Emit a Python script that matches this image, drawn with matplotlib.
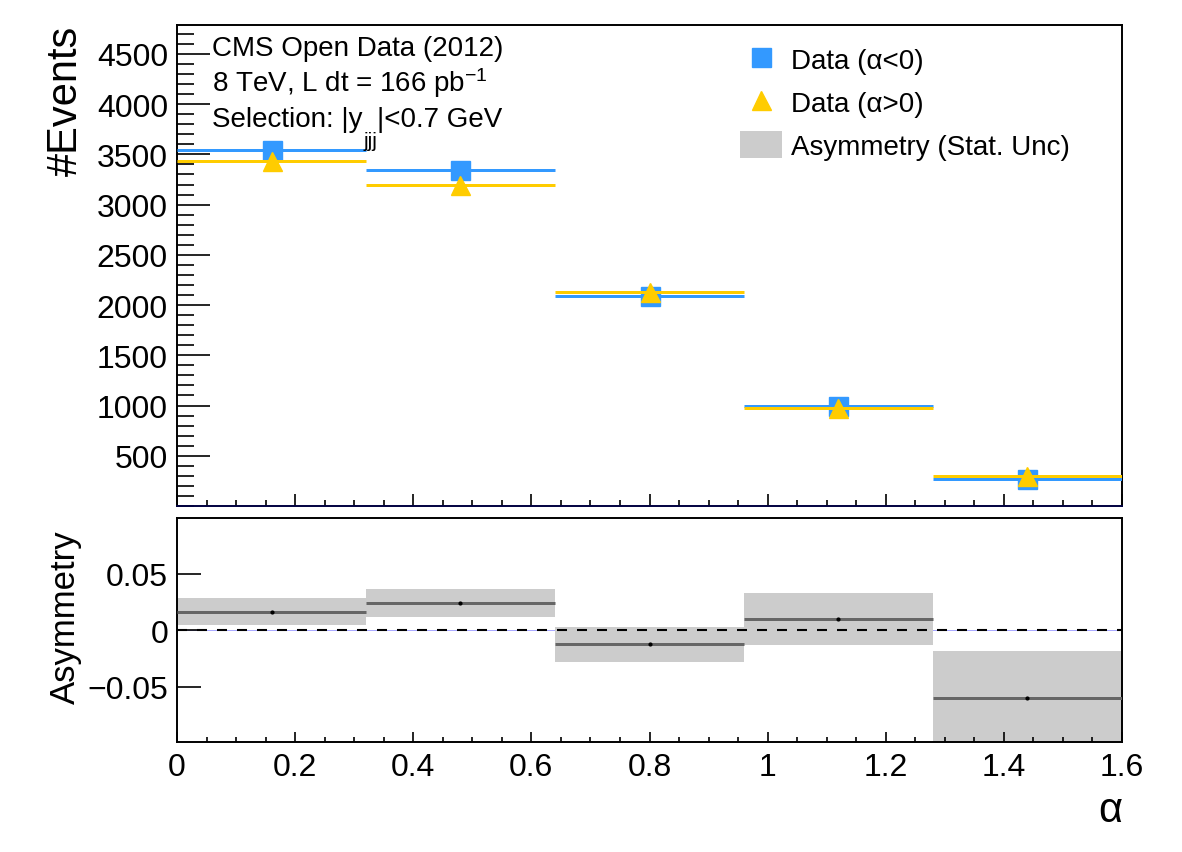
import numpy as np
import matplotlib
matplotlib.use("Agg")
import matplotlib.pyplot as plt
from matplotlib.ticker import MultipleLocator, FixedLocator, FuncFormatter
from matplotlib.lines import Line2D
from matplotlib.patches import Patch

plt.rcParams['font.family'] = ['Liberation Sans', 'DejaVu Sans']
plt.rcParams['mathtext.fontset'] = 'custom'
plt.rcParams['mathtext.rm'] = 'Liberation Sans'
plt.rcParams['mathtext.it'] = 'Liberation Sans'
plt.rcParams['axes.unicode_minus'] = True

# ---------------- data ----------------
bin_edges = [0.0, 0.32, 0.64, 0.96, 1.28, 1.6]
events_alpha_neg = [3540, 3344, 2086, 993, 273]
events_alpha_pos = [3430, 3194, 2135, 971, 303]
asymmetry = [0.0163, 0.0239, -0.0125, 0.0099, -0.0603]
asymmetry_err = [0.0121, 0.0125, 0.0154, 0.0229, 0.0423]
top_yticks = [500, 1000, 1500, 2000, 2500, 3000, 3500, 4000, 4500]
bottom_yticks = [-0.05, 0.0, 0.05]
xticks = [0, 0.2, 0.4, 0.6, 0.8, 1.0, 1.2, 1.4, 1.6]

label_neg = "Data (\u03b1<0)"
label_pos = "Data (\u03b1>0)"
label_asym = "Asymmetry (Stat. Unc)"

# ---------------- style ----------------
BLUE = '#3399ff'
YELLOW = '#ffcc00'
GRAY = '#cccccc'
DGRAY = '#666666'
W, H = 1182, 853
PX = 0.72  # points per pixel at dpi 100

fig = plt.figure(figsize=(W / 100, H / 100), dpi=100)
L, R = 177 / W, 1122 / W
ax1 = fig.add_axes([L, 1 - 507 / H, R - L, (507 - 26) / H])
ax2 = fig.add_axes([L, 1 - 742.7 / H, R - L, (742.7 - 519.3) / H])

edges = np.array(bin_edges)
lo, hi = edges[:-1], edges[1:]
centers = 0.5 * (lo + hi)
widths = hi - lo

# top panel
ax1.hlines(events_alpha_neg, lo, hi, color=BLUE, lw=3 * PX, zorder=3)
ax1.plot(centers, events_alpha_neg, ls='none', marker='s', ms=19 * PX,
         color=BLUE, mec=BLUE, zorder=4)
ax1.hlines(events_alpha_pos, lo, hi, color=YELLOW, lw=3 * PX, zorder=5)
ax1.plot(centers, events_alpha_pos, ls='none', marker='^', ms=19 * PX,
         color=YELLOW, mec=YELLOW, zorder=6)

ax1.set_xlim(bin_edges[0], bin_edges[-1])
ax1.set_ylim(0, 4788)

# bottom panel
asym = np.array(asymmetry)
err = np.array(asymmetry_err)
ax2.axhline(0, color='#9999ff', lw=0.6, zorder=0.5)
ax2.bar(centers, 2 * err, bottom=asym - err, width=widths, color=GRAY,
        edgecolor='none', zorder=1)
ax2.axhline(0, color='black', lw=1.5, ls=(0, (4.8, 4.8)), zorder=3)
ax2.hlines(asym, lo, hi, color=DGRAY, lw=3 * PX, zorder=4)
ax2.plot(centers, asym, ls='none', marker='o', ms=2, color='black', zorder=5)
ax2.set_xlim(bin_edges[0], bin_edges[-1])
ax2.set_ylim(-0.0985, 0.0988)

tick_fs = 23
fmt = FuncFormatter(lambda v, p: ('%g' % round(v, 6)).replace('-', '\u2212'))

for ax in (ax1, ax2):
    for s in ax.spines.values():
        s.set_linewidth(1.4)
    ax.xaxis.set_major_locator(FixedLocator(xticks))
    ax.xaxis.set_minor_locator(MultipleLocator(0.05))
    ax.tick_params(axis='both', which='both', direction='in', top=False,
                   right=False, labelsize=tick_fs, width=1.2)

ax1.spines['bottom'].set_color('#000040')
ax1.yaxis.set_major_locator(FixedLocator(top_yticks))
ax1.yaxis.set_minor_locator(MultipleLocator(100))
ax1.yaxis.set_major_formatter(fmt)
ax1.tick_params(axis='y', which='major', length=33 * PX, pad=9 * PX)
ax1.tick_params(axis='y', which='minor', length=17 * PX)
ax1.tick_params(axis='x', which='major', length=12 * PX, labelbottom=False)
ax1.tick_params(axis='x', which='minor', length=6 * PX)

ax2.yaxis.set_major_locator(FixedLocator(bottom_yticks))
ax2.yaxis.set_major_formatter(fmt)
ax2.xaxis.set_major_formatter(fmt)
ax2.tick_params(axis='y', which='major', length=24 * PX, pad=9 * PX)
ax2.tick_params(axis='x', which='major', length=10 * PX, pad=10 * PX)
ax2.tick_params(axis='x', which='minor', length=5 * PX)

ax1.set_ylabel('#Events', fontsize=30, loc='top')
ax1.yaxis.set_label_coords((86 - 177) / 945, 1.0)
ax2.set_ylabel('Asymmetry', fontsize=25)
ax2.yaxis.set_label_coords((82 - 177) / 945, 0.56)
ax2.set_xlabel('\u03b1', fontsize=30, loc='right')
ax2.xaxis.set_label_coords(1.0, -0.215)

# annotations
tx = 211.7 / W
fig.text(tx, 1 - 56 / H, 'CMS Open Data (2012)', fontsize=20, va='baseline')
fig.text(tx, 1 - 92.5 / H, '8 TeV, L dt = 166 pb$^{-1}$', fontsize=20, va='baseline')

renderer = fig.canvas.get_renderer()
t1 = fig.text(tx, 1 - 127 / H, 'Selection: |y', fontsize=20, va='baseline')
x_end = t1.get_window_extent(renderer).x1
t2 = fig.text(x_end / W + 1 / W, 1 - 147 / H, 'jjj', fontsize=15, va='baseline')
x_end2 = t2.get_window_extent(renderer).x1
fig.text(x_end2 / W, 1 - 127 / H, '|<0.7 GeV', fontsize=20, va='baseline')

handles = [
    Line2D([], [], ls='none', marker='s', ms=19 * PX, color=BLUE),
    Line2D([], [], ls='none', marker='^', ms=19 * PX, color=YELLOW),
    Patch(facecolor=GRAY, edgecolor='none'),
]
fig.legend(handles, [label_neg, label_pos, label_asym], loc='upper left',
           bbox_to_anchor=(740 / W, 1 - 46.5 / H), frameon=False, fontsize=20,
           handlelength=1.5, handleheight=1.12, handletextpad=0.35,
           labelspacing=0.49, borderpad=0, borderaxespad=0)

fig.savefig('out.png', dpi=100)
